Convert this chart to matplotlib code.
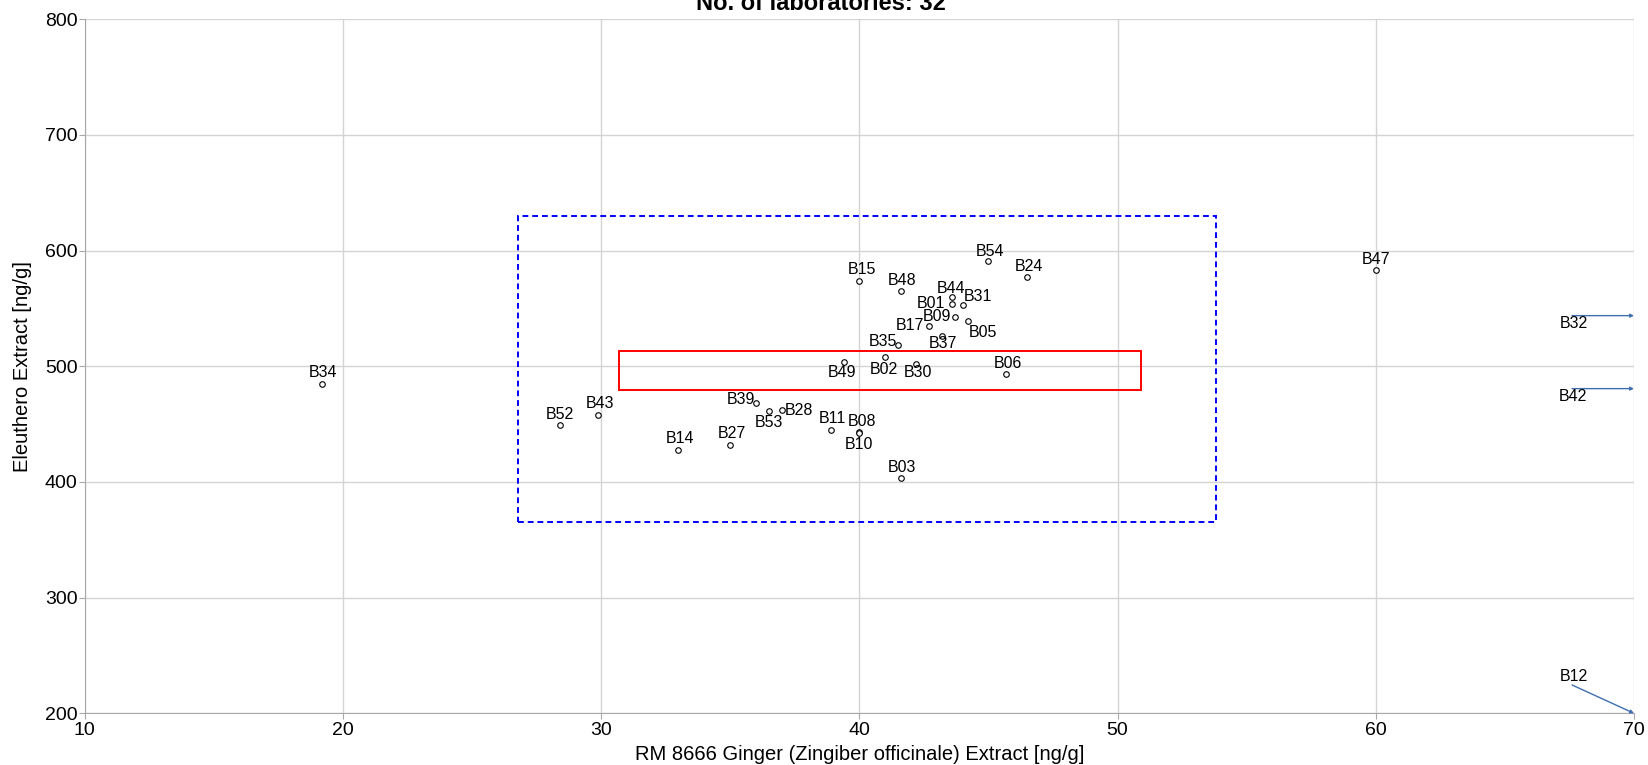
import matplotlib
matplotlib.use("Agg")
import matplotlib.pyplot as plt
from matplotlib.patches import Rectangle

plt.rcParams['font.family'] = ['Liberation Sans', 'DejaVu Sans']

# lab results (x = ginger, y = eleuthero) [ng/g]
labs = ['B34', 'B52', 'B43', 'B14', 'B27', 'B39', 'B53', 'B28', 'B11', 'B08',
        'B10', 'B03', 'B49', 'B02', 'B30', 'B06', 'B35', 'B37', 'B17', 'B09',
        'B05', 'B01', 'B44', 'B31', 'B48', 'B15', 'B54', 'B24', 'B47']
ginger = [19.2, 28.4, 29.9, 33.0, 35.0, 36.0, 36.5, 37.0, 38.9, 40.0,
          40.0, 41.6, 39.4, 41.0, 42.2, 45.7, 41.5, 43.2, 42.7, 43.7,
          44.2, 43.6, 43.6, 44.0, 41.6, 40.0, 45.0, 46.5, 60.0]
eleuthero = [485, 449, 458, 428, 432, 468, 461, 462, 445, 443,
             442, 403, 504, 508, 502, 493, 518, 526, 535, 543,
             539, 554, 560, 553, 565, 574, 591, 577, 583]

# label offsets in points (dx, dy)
offsets = [(1, 8), (0, 8), (1, 8), (1, 8), (1, 8), (-11, 3), (0, -8), (12, 0), (1, 8), (2, 8),
           (0, -8), (1, 8), (-1, -8), (-1, -9), (1, -6), (1, 8), (-11, 3), (1, -5), (-14, 0), (-13, 0),
           (11, -8), (-15, 0), (-1, 6), (11, 6), (1, 8), (2, 8), (1, 7), (1, 8), (0, 8)]

# labs outside the plotted range (shown as arrows)
out_labs = ['B32', 'B42', 'B12']
out_y = [543.8, 480.7, 224.5]

# consensus boxes
blue_x = [26.8, 53.8]
blue_y = [365.2, 630.3]
red_x = [30.7, 50.9]
red_y = [479.6, 513.2]

xlim = (10, 70)
ylim = (200, 800)

fig = plt.figure(figsize=(16.48, 7.65), dpi=100)
ax = fig.add_axes([84.5 / 1648, 1 - 713.3 / 765, 1549.5 / 1648, 694 / 765])

ax.set_xlim(*xlim)
ax.set_ylim(*ylim)
ax.set_xticks(range(10, 71, 10))
ax.set_yticks(range(200, 801, 100))
ax.grid(True, color='#d4d4d4', lw=1)
ax.set_axisbelow(True)
for s in ['top', 'right']:
    ax.spines[s].set_visible(False)
for s in ['left', 'bottom']:
    ax.spines[s].set_color('#a8a8a8')
ax.tick_params(axis='both', labelsize=14, color='#a8a8a8', length=4)
ax.tick_params(axis='y', pad=1)
ax.tick_params(axis='x', pad=2)

ax.add_patch(Rectangle((blue_x[0], blue_y[0]), blue_x[1] - blue_x[0], blue_y[1] - blue_y[0],
                       fill=False, ec='#0000ff', lw=1.4, ls=(0, (3, 2))))
ax.add_patch(Rectangle((red_x[0], red_y[0]), red_x[1] - red_x[0], red_y[1] - red_y[0],
                       fill=False, ec='#ff0000', lw=1.4))

ax.plot(ginger, eleuthero, 'o', ms=4, mfc='white', mec='black', mew=0.8)
for lab, x, y, (dx, dy) in zip(labs, ginger, eleuthero, offsets):
    ax.annotate(lab, (x, y), xytext=(dx, dy), textcoords='offset points',
                ha='center', va='center', fontsize=11.5)

# arrows to off-scale results
start_x = xlim[1] - 2.4
for lab, y in zip(out_labs, out_y):
    end_y = y if y > ylim[0] + 30 else ylim[0]
    ax.annotate('', xy=(xlim[1], end_y), xytext=(start_x, y),
                arrowprops=dict(arrowstyle='-|>', color='#3f6fb0', lw=1, mutation_scale=5,
                                shrinkA=0, shrinkB=0), annotation_clip=False)
    dy = 6 if end_y != y else -6
    ax.annotate(lab, (start_x, y), xytext=(1, dy), textcoords='offset points',
                ha='center', va='center', fontsize=11.5)

ax.set_xlabel('RM 8666 Ginger (Zingiber officinale) Extract [ng/g]', fontsize=14.5)
ax.set_ylabel('Eleuthero Extract [ng/g]', fontsize=14.5)
ax.xaxis.set_label_coords(0.5, -0.045)
ax.yaxis.set_label_coords(-0.034, 0.5)

fig.text(821 / 1648, 1 - 10.5 / 765, 'No. of laboratories: 32', ha='center', va='baseline',
         fontsize=17, fontweight='bold')

fig.savefig('out.png', dpi=100)
